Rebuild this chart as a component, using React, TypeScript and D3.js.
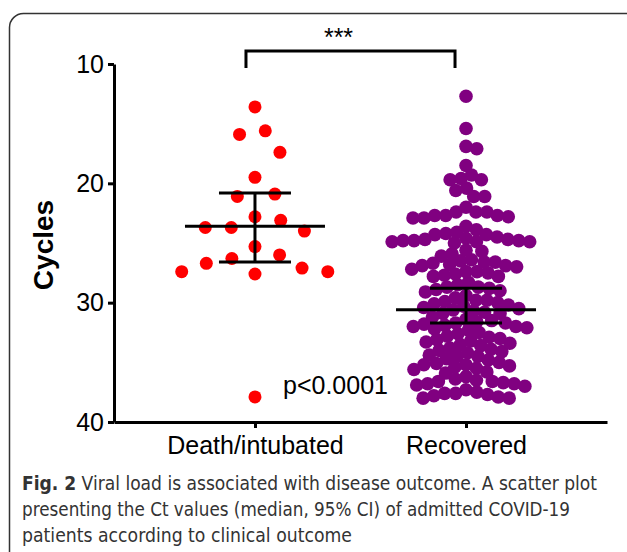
import React, { useEffect, useRef } from 'react';
import * as d3 from 'd3';

const groups = ['Death/intubated', 'Recovered'];
const groupColors = ['#ff0000', '#800080'];

// Ct values
const deathCt = [13.6, 15.6, 15.9, 17.4, 19.5, 20.9, 21.1, 22.8, 23.1, 23.7, 23.7, 24.0, 25.3, 26.0, 26.3, 26.7, 27.1, 27.4, 27.4, 27.6, 37.9];
const recoveredCt = [
  12.7, 15.4, 16.9, 17.1, 18.5, 19.3, 19.6, 19.7, 19.7, 20.4, 20.6, 21.1, 21.1,
  22.0, 22.4, 22.4, 22.4, 22.7, 22.7, 22.7, 22.8, 22.9, 22.9, 23.6, 23.9, 24.1,
  24.2, 24.3, 24.3, 24.5, 24.6, 24.7, 24.7, 24.8, 24.8, 24.8, 24.9, 24.9, 24.9, 25.0,
  25.6, 25.7, 25.9, 26.1, 26.4, 26.5, 26.6, 26.6, 26.7, 26.8, 26.9, 26.9, 27.0,
  27.2, 27.4, 27.4, 27.5, 27.6, 27.7, 27.8, 27.8,
  28.3, 28.5, 28.7, 28.7, 28.8, 28.9, 29.0, 29.1,
  29.4, 29.6, 29.8, 29.8, 29.9, 30.0, 30.1,
  30.2, 30.3, 30.4, 30.5, 30.6, 30.7, 30.8, 30.9, 30.9,
  31.2, 31.4, 31.5, 31.6, 31.7, 31.7, 31.8, 31.9, 32.0, 32.0,
  32.1, 32.2, 32.3, 32.5, 32.6, 32.8, 32.9, 33.0,
  33.1, 33.2, 33.3, 33.4, 33.5, 33.6, 33.8, 33.9, 34.0,
  34.1, 34.2, 34.4, 34.5, 34.5, 34.7, 34.8, 35.0,
  35.1, 35.2, 35.2, 35.3, 35.4, 35.5, 35.6, 35.8, 35.9,
  36.2, 36.4, 36.5, 36.6, 36.6, 36.7, 36.8, 36.8, 36.9, 37.0,
  37.3, 37.5, 37.6, 37.6, 37.7, 37.8, 37.9, 38.0, 38.0,
];
const groupValues = [deathCt, recoveredCt];

// median and 95% CI
const medians = [23.6, 30.6];
const ciLow = [20.8, 28.8];
const ciHigh = [26.6, 31.7];

const yTicks = [10, 20, 30, 40];

const captionBold = 'Fig. 2';
const captionLines = [
  ' Viral load is associated with disease outcome. A scatter plot',
  'presenting the Ct values (median, 95% CI) of admitted COVID-19',
  'patients according to clinical outcome',
];

const width = 627;
const height = 552;
const font = 'Arial, "Liberation Sans", sans-serif';

// simple beeswarm: place points top to bottom, nearest free spot to the centre
function swarm(values: number[], y: (v: number) => number, diam: number) {
  const order = values.map((_, i) => i).sort((a, b) => values[a] - values[b]);
  const placed: { x: number; y: number }[] = [];
  const out: { dx: number; cy: number }[] = new Array(values.length);
  for (const i of order) {
    const py = y(values[i]);
    const near = placed.filter((p) => Math.abs(p.y - py) < diam);
    const cands = [0];
    near.forEach((p) => {
      const dx = Math.sqrt(diam * diam - (p.y - py) ** 2);
      cands.push(p.x + dx, p.x - dx);
    });
    cands.sort((a, b) => Math.abs(a) - Math.abs(b) || b - a);
    const x = cands.find((c) => near.every((p) => (p.x - c) ** 2 + (p.y - py) ** 2 >= diam * diam - 0.01)) ?? 0;
    placed.push({ x, y: py });
    out[i] = { dx: x, cy: py };
  }
  return out;
}

export default function App() {
  const yAxisRef = useRef<SVGGElement>(null);
  const xAxisRef = useRef<SVGGElement>(null);

  const y = d3.scaleLinear().domain([10, 40]).range([64, 422]);
  const x = d3.scalePoint<string>().domain(groups).range([114, 607]).padding(0.668);

  useEffect(() => {
    const ya = d3.select(yAxisRef.current!);
    ya.call(d3.axisLeft(y).tickValues(yTicks).tickSize(6).tickSizeOuter(0).tickPadding(4));
    const xa = d3.select(xAxisRef.current!);
    xa.call(d3.axisBottom(x).tickSize(6).tickSizeOuter(0).tickPadding(8));
    [ya, xa].forEach((g) => {
      g.select('.domain').attr('stroke-width', 3);
      g.selectAll('.tick line').attr('stroke-width', 3);
      g.selectAll('.tick text').attr('font-size', 25).attr('font-family', font).attr('fill', '#000');
    });
  }, []);

  const diams = [26, 11];
  const swarms = groupValues.map((vals, gi) => swarm(vals, y, diams[gi]));
  const radii = [6.5, 6.8];

  const bx1 = x(groups[0])! - 9;
  const bx2 = x(groups[1])! - 11;

  return (
    <svg width={width} height={height} style={{ position: 'absolute', left: 0, top: 0, background: '#fff' }}>
      <rect x={9.5} y={13.5} width={632} height={620} rx={14} fill="none" stroke="#333" strokeWidth={1.5} />

      {groups.map((g, gi) => (
        <g key={g}>
          {swarms[gi].map((p, i) => (
            <circle key={i} cx={x(g)! + p.dx} cy={p.cy} r={radii[gi]} fill={groupColors[gi]} />
          ))}
        </g>
      ))}

      {groups.map((g, gi) => {
        const cx = x(g)!;
        return (
          <g key={g + '-ci'} stroke="#000" strokeWidth={3}>
            <line x1={cx - 70} x2={cx + 70} y1={y(medians[gi])} y2={y(medians[gi])} />
            <line x1={cx - 36} x2={cx + 36} y1={y(ciLow[gi])} y2={y(ciLow[gi])} />
            <line x1={cx - 36} x2={cx + 36} y1={y(ciHigh[gi])} y2={y(ciHigh[gi])} />
            <line x1={cx} x2={cx} y1={y(ciLow[gi])} y2={y(ciHigh[gi])} />
          </g>
        );
      })}

      <g ref={yAxisRef} transform="translate(114,0)" />
      <g ref={xAxisRef} transform="translate(0,422)" />

      <text transform="translate(53,245) rotate(-90)" textAnchor="middle" fontFamily={font} fontWeight="bold" fontSize={28}>
        Cycles
      </text>

      <path d={`M${bx1},68V51H${bx2}V68`} fill="none" stroke="#000" strokeWidth={3} />
      <text x={(bx1 + bx2) / 2 - 12} y={46} textAnchor="middle" fontFamily={font} fontSize={25}>
        ***
      </text>
      <text x={283} y={394} fontFamily={font} fontSize={25}>
        p&lt;0.0001
      </text>

      <g fontFamily='"DejaVu Sans", sans-serif' fontStretch="condensed" fontSize={19} fill="#333">
        <text x={22} y={490} textLength={575} lengthAdjust="spacingAndGlyphs">
          <tspan fontWeight="bold">{captionBold}</tspan>
          {captionLines[0]}
        </text>
        <text x={22} y={516} textLength={548} lengthAdjust="spacingAndGlyphs">
          {captionLines[1]}
        </text>
        <text x={22} y={542} textLength={330} lengthAdjust="spacingAndGlyphs">
          {captionLines[2]}
        </text>
      </g>
    </svg>
  );
}
